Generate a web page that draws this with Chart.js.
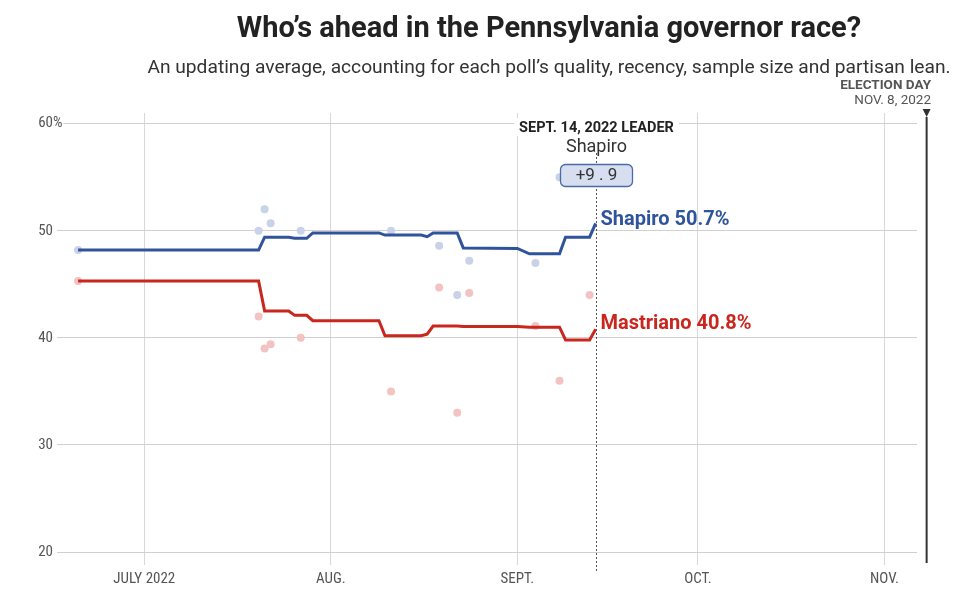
<!DOCTYPE html>
<html>
<head>
<meta charset="utf-8">
<script src="https://cdn.jsdelivr.net/npm/chart.js@4.4.1/dist/chart.umd.min.js"></script>
<style>
  html, body { margin: 0; padding: 0; background: #fff; overflow: hidden; }
  #wrap { position: relative; width: 959px; height: 605px; }
  .hd { position: absolute; left: 549px; transform: translateX(-50%); white-space: nowrap; font-family: Roboto, sans-serif; }
  #title { top: 10px; font-size: 29px; font-weight: 700; color: #222; }
  #sub { top: 55px; font-size: 19.2px; color: #333; }
  #eday { position: absolute; right: 28px; top: 77px; text-align: right; font-family: Roboto, sans-serif; font-size: 13.5px; line-height: 15px; color: #555; }
  #eday b { font-weight: 700; }
  canvas { position: absolute; left: 0; top: 0; }
</style>
</head>
<body>
<div id="wrap">
  <canvas id="chart" width="959" height="605"></canvas>
  <div class="hd" id="title">Who’s ahead in the Pennsylvania governor race?</div>
  <div class="hd" id="sub">An updating average, accounting for each poll’s quality, recency, sample size and partisan lean.</div>
  <div id="eday"><b>ELECTION DAY</b><br>NOV. 8, 2022</div>
</div>
<script>
// polling average (vertices of the line)
const avgDates = ['2022-06-20','2022-07-20','2022-07-21','2022-07-25','2022-07-26','2022-07-28','2022-07-29',
  '2022-08-09','2022-08-10','2022-08-16','2022-08-17','2022-08-18','2022-08-22','2022-08-23',
  '2022-09-01','2022-09-03','2022-09-08','2022-09-09','2022-09-13','2022-09-14'];
const avgShapiro = [48.2, 48.2, 49.4, 49.4, 49.3, 49.3, 49.8, 49.8, 49.6, 49.6, 49.45, 49.8, 49.8, 48.4,
  48.35, 47.85, 47.85, 49.4, 49.4, 50.7];
const avgMastriano = [45.3, 45.3, 42.5, 42.5, 42.1, 42.1, 41.6, 41.6, 40.2, 40.2, 40.35, 41.1, 41.1, 41.05,
  41.05, 41.0, 41.0, 39.8, 39.8, 40.8];

// individual polls
const pollDates = ['2022-06-20','2022-07-20','2022-07-21','2022-07-22','2022-07-27','2022-08-11',
  '2022-08-19','2022-08-22','2022-08-24','2022-09-04','2022-09-08','2022-09-13'];
const pollShapiro = [48.2, 50.0, 52.0, 50.7, 50.0, 50.0, 48.6, 44.0, 47.2, 47.0, 55.0, null];
const pollMastriano = [45.3, 42.0, 39.0, 39.4, 40.0, 35.0, 44.7, 33.0, 44.2, 41.1, 36.0, 44.0];

const monthTicks = ['2022-07-01','2022-08-01','2022-09-01','2022-10-01','2022-11-01'];
const monthLabels = ['JULY 2022','AUG.','SEPT.','OCT.','NOV.'];
const yTicks = [20, 30, 40, 50, 60];

const leaderDate = '2022-09-14';
const electionDate = '2022-11-08';

const BLUE = '#30549c', RED = '#c9261e';
const narrow = "'Liberation Sans Narrow', 'Roboto Condensed', 'DejaVu Sans Condensed', sans-serif";

const day = s => Date.parse(s + 'T00:00:00Z') / 864e5;
const pts = (dates, vals) => dates.map((d, i) => ({x: day(d), y: vals[i]}));

const overlay = {
  id: 'overlay',
  afterDraw(chart) {
    const {ctx, chartArea, scales: {x, y}} = chart;
    ctx.save();
    // % after the top tick
    ctx.font = '15px ' + narrow;
    const py = y.getPixelForValue(60);
    const w = ctx.measureText('%').width;
    ctx.fillStyle = '#fff';
    ctx.fillRect(chartArea.left - 4, py - 8, w + 1, 16);
    ctx.fillStyle = '#555';
    ctx.textAlign = 'left';
    ctx.textBaseline = 'middle';
    ctx.fillText('%', chartArea.left - 4, py);

    // election day marker
    const ex = x.getPixelForValue(day(electionDate));
    ctx.fillStyle = '#333';
    ctx.beginPath();
    ctx.moveTo(ex - 4, 109); ctx.lineTo(ex + 4, 109); ctx.lineTo(ex, 117); ctx.closePath();
    ctx.fill();
    ctx.strokeStyle = '#333';
    ctx.lineWidth = 2;
    ctx.beginPath(); ctx.moveTo(ex, 117); ctx.lineTo(ex, 563); ctx.stroke();

    // leader date dotted line
    const lx = Math.round(x.getPixelForValue(day(leaderDate))) + 0.5;
    ctx.strokeStyle = '#555';
    ctx.lineWidth = 1;
    ctx.setLineDash([2, 2]);
    ctx.beginPath(); ctx.moveTo(lx, 153); ctx.lineTo(lx, 572); ctx.stroke();
    ctx.setLineDash([]);

    // leader header
    ctx.textAlign = 'center';
    ctx.font = '700 14.5px Roboto, sans-serif';
    const hw = ctx.measureText('SEPT. 14, 2022 LEADER').width;
    ctx.fillStyle = '#fff';
    ctx.fillRect(lx - hw / 2 - 5, 118, hw + 10, 18);
    ctx.fillStyle = '#222';
    ctx.fillText('SEPT. 14, 2022 LEADER', lx, 128);
    ctx.font = '18px Roboto, sans-serif';
    ctx.fillStyle = '#333';
    ctx.fillText('Shapiro', lx, 147);

    // margin box
    const margin = avgShapiro[avgShapiro.length - 1] - avgMastriano[avgMastriano.length - 1];
    ctx.beginPath();
    ctx.roundRect(lx - 36, 164.5, 72, 22, 5);
    ctx.fillStyle = '#d6deef';
    ctx.fill();
    ctx.strokeStyle = '#4a6aa8';
    ctx.lineWidth = 1.3;
    ctx.stroke();
    ctx.fillStyle = '#333';
    ctx.font = '17px Roboto, sans-serif';
    const m = margin.toFixed(1).split('.');
    ctx.fillText('+' + m[0] + ' . ' + m[1], lx, 176);

    // end labels
    ctx.textAlign = 'left';
    ctx.font = '700 20px Roboto, sans-serif';
    const lastS = avgShapiro[avgShapiro.length - 1];
    const lastM = avgMastriano[avgMastriano.length - 1];
    ctx.fillStyle = BLUE;
    ctx.fillText('Shapiro ' + lastS.toFixed(1) + '%', lx + 4, y.getPixelForValue(lastS) - 3);
    ctx.fillStyle = RED;
    ctx.fillText('Mastriano ' + lastM.toFixed(1) + '%', lx + 4, y.getPixelForValue(lastM) - 5);
    ctx.restore();
  }
};

new Chart(document.getElementById('chart'), {
  data: {
    datasets: [
      {type: 'line', data: pts(avgDates, avgShapiro), borderColor: BLUE, borderWidth: 3, pointRadius: 0, tension: 0},
      {type: 'line', data: pts(avgDates, avgMastriano), borderColor: RED, borderWidth: 3, pointRadius: 0, tension: 0},
      {type: 'scatter', data: pts(pollDates, pollShapiro), backgroundColor: '#c8d2e8', borderWidth: 0, pointRadius: 4},
      {type: 'scatter', data: pts(pollDates, pollMastriano), backgroundColor: '#f2c3c2', borderWidth: 0, pointRadius: 4}
    ]
  },
  options: {
    responsive: false,
    animation: false,
    layout: {padding: {top: 113, right: 42, left: 0, bottom: 0}},
    plugins: {legend: {display: false}, tooltip: {enabled: false}},
    scales: {
      x: {
        type: 'linear',
        min: day('2022-06-16') + 0.5,
        max: day('2022-11-06') + 0.4,
        afterBuildTicks: s => { s.ticks = monthTicks.map(d => ({value: day(d)})); },
        afterFit: s => { s.height = 53; },
        grid: {color: '#d8d8d8', tickLength: 13},
        border: {display: false},
        ticks: {
          autoSkip: false, maxRotation: 0, padding: 5, color: '#555',
          font: {family: narrow, size: 15},
          callback: (v, i) => monthLabels[i]
        }
      },
      y: {
        min: 20, max: 61,
        afterBuildTicks: s => { s.ticks = yTicks.map(v => ({value: v})); },
        afterFit: s => { s.width = 57; },
        grid: {color: '#d0d0d0', drawTicks: false},
        border: {display: false},
        ticks: {padding: 4, color: '#555', font: {family: narrow, size: 15}, callback: v => String(v)}
      }
    }
  },
  plugins: [overlay]
});
</script>
</body>
</html>
